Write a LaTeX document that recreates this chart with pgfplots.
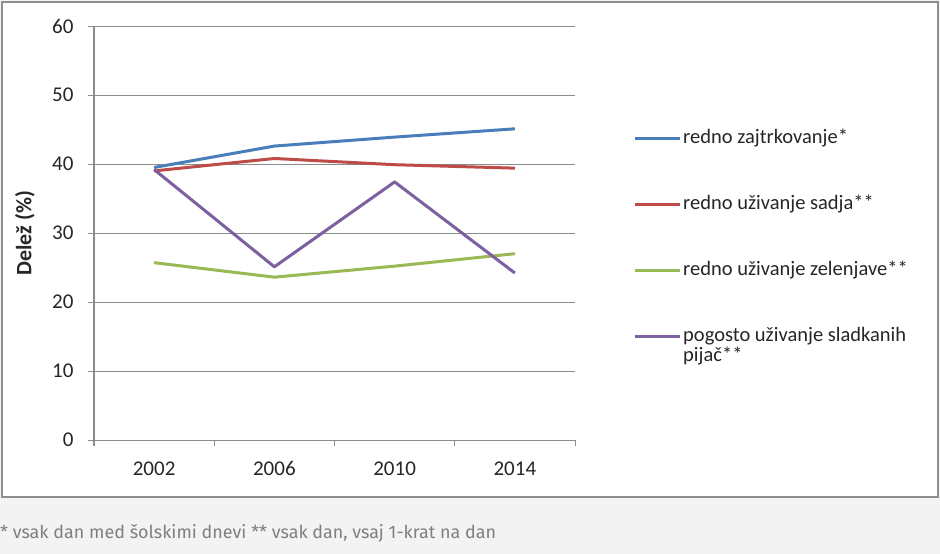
\documentclass[border=0pt]{standalone}
\usepackage{fontspec}
\setmainfont{Carlito}
\newfontfamily\footfont{Fira Sans}
\usepackage{graphicx}
\usepackage{pgfplots}
\pgfplotsset{compat=1.18}
\definecolor{cblue}{HTML}{4A7EBB}
\definecolor{cred}{HTML}{BE4B48}
\definecolor{cgreen}{HTML}{98B954}
\definecolor{cpurple}{HTML}{7D60A0}
\definecolor{gridgray}{HTML}{8C8C8C}
\definecolor{framegray}{HTML}{8E8E8E}
\definecolor{bggray}{HTML}{F3F3F3}
\definecolor{footgray}{HTML}{7F7F7F}
\definecolor{txt}{HTML}{262626}
\begin{document}
\begin{tikzpicture}
\useasboundingbox (0pt,0pt) rectangle (940pt,-554pt);
\fill[bggray] (0pt,0pt) rectangle (940pt,-554pt);
\draw[framegray, fill=white, line width=2pt] (2pt,-2pt) rectangle (938pt,-497pt);
\begin{axis}[
  at={(94pt,-440pt)}, anchor=south west, scale only axis,
  width=481pt, height=414pt,
  xmin=-0.5, xmax=3.5, ymin=0, ymax=60,
  axis lines=left, axis line style={-, draw=gridgray, line width=1pt},
  ytick={0,10,...,60},
  xtick={-0.5,0.5,1.5,2.5,3.5}, xticklabels={,,,,,},
  extra x ticks={0,1,2,3}, extra x tick labels={2002,2006,2010,2014},
  extra x tick style={major tick length=0pt, xticklabel style={anchor=base, yshift=-35pt}},
  tick align=outside, major tick length=6pt,
  tick style={draw=gridgray, line width=1pt},
  ymajorgrids, grid style={draw=gridgray, line width=1pt},
  every tick label/.append style={font=\fontsize{21}{25}\selectfont, text=txt},
  yticklabel style={xshift=-11pt},
  /pgf/number format/assume math mode=true,
  ylabel={\bfseries Delež (\%)},
  every axis y label/.style={at={(axis description cs:-0.1435,0.5)}, rotate=90, anchor=center, font=\fontsize{22}{26}\selectfont, text=txt},
  legend style={at={(1.1206,0.752)}, anchor=north west, draw=none, fill=none, inner sep=0pt,
    row sep=46pt, column sep=2pt,
    nodes={inner sep=0pt, text height=15pt, text depth=5pt, font=\fontsize{20.5}{24}\selectfont, text=txt},
    cells={anchor=west}},
  legend cell align=left,
  legend image code/.code={\draw[#1, line width=3pt] (0pt,0pt) -- (45pt,0pt);},
  every axis plot/.append style={line width=3pt, line join=round},
  clip=false,
]
\addplot[cblue] coordinates {(0,39.5) (1,42.6) (2,43.9) (3,45.1)};
\addlegendentry{redno zajtrkovanje*}
\addplot[cred] coordinates {(0,39.0) (1,40.8) (2,39.9) (3,39.4)};
\addlegendentry{redno uživanje sadja**}
\addplot[cgreen] coordinates {(0,25.7) (1,23.6) (2,25.2) (3,27.0)};
\addlegendentry{redno uživanje zelenjave**}
\addplot[cpurple] coordinates {(0,39.2) (1,25.1) (2,37.4) (3,24.2)};
\addlegendentry{\begin{tabular}[t]{@{}l@{}}pogosto uživanje sladkanih\\[-4pt]pijač**\end{tabular}}
\end{axis}
\node[anchor=west, inner sep=0pt, text=footgray] at (0pt,-533pt) {\resizebox{496pt}{!}{\footfont * vsak dan med šolskimi dnevi ** vsak dan, vsaj 1-krat na dan}};
\end{tikzpicture}
\end{document}
